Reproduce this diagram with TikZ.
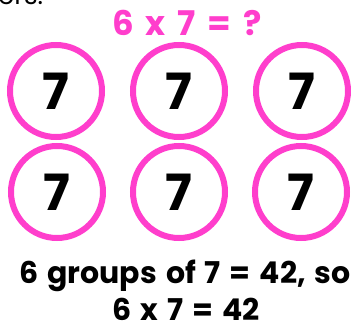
\documentclass[tikz,border=0pt]{standalone}
\usepackage{fontspec}
\newfontfamily\gothic{Poppins}
\newcommand\gapword[1]{\spaceskip=#1\relax}
\definecolor{grppink}{RGB}{255,62,204}
\tikzset{
    grp/.style={circle, draw=grppink, line width=6pt, minimum size=92pt,
        inner sep=0pt, font=\gothic\bfseries\fontsize{50}{50}\selectfont},
    sumtext/.style={font=\gothic\bfseries\fontsize{30}{30}\selectfont\gapword{9pt},
        anchor=base, inner sep=0pt},
}
\begin{document}
\begin{tikzpicture}[x=1pt, y=-1pt]
    \useasboundingbox[clip] (0,0) rectangle (351,324);

    % cropped text from the line above
    \node[anchor=base west, inner sep=0pt, font=\gothic\fontsize{26}{26}\selectfont] (cut) at (-2,5) {ers.};

    \node[text=grppink, font=\gothic\bfseries\fontsize{34}{34}\selectfont\gapword{12pt},
        anchor=base, inner sep=0pt] (question) at (187,35) {6 x 7 = ?};

    % six groups
    \node[grp] (g1) at (56,91) {7};
    \node[grp] (g2) at (179,91) {7};
    \node[grp] (g3) at (302,91) {7};
    \node[grp] (g4) at (57,192) {7};
    \node[grp] (g5) at (179,192) {7};
    \node[grp] (g6) at (301,192) {7};

    \node[sumtext] (answer) at (185,283) {6 groups of 7 = 42, so};
    \node[sumtext] (so) at (186,320) {6 x 7 = 42};
\end{tikzpicture}
\end{document}
